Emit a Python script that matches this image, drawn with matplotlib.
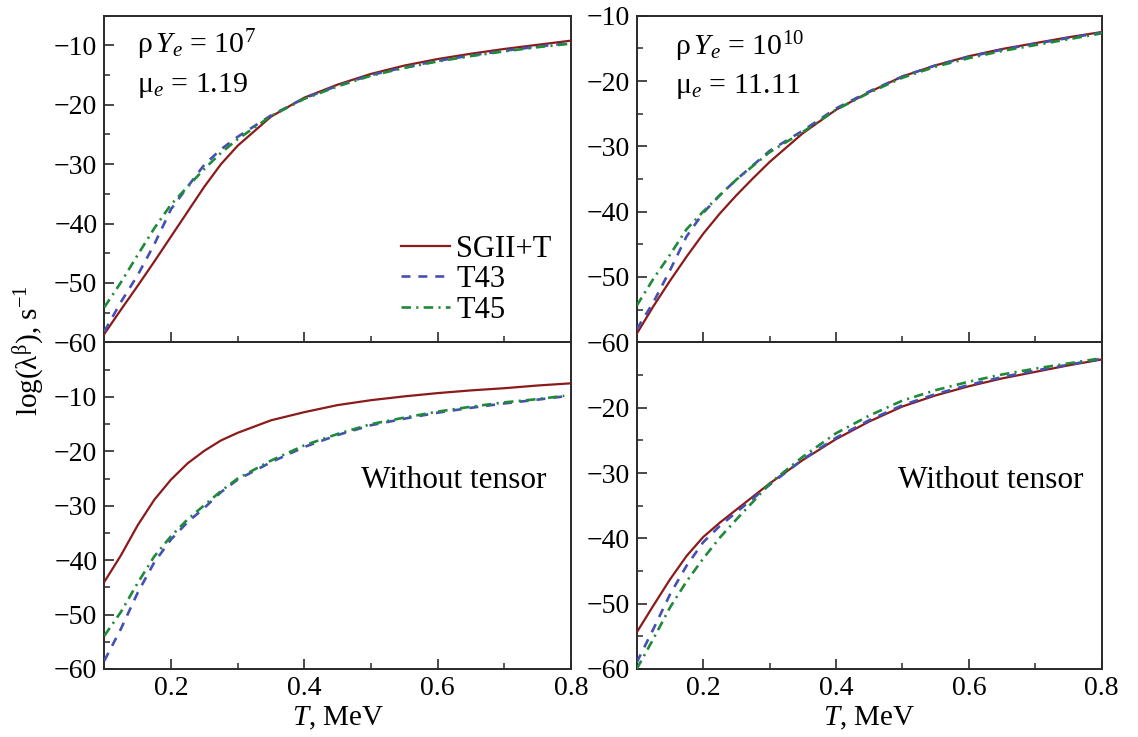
import matplotlib
matplotlib.use("Agg")
import matplotlib.pyplot as plt
from matplotlib.ticker import FixedLocator, MultipleLocator, FixedFormatter

plt.rcParams['font.family'] = ['Liberation Serif', 'DejaVu Serif']
plt.rcParams['mathtext.fontset'] = 'custom'
plt.rcParams['mathtext.rm'] = 'Liberation Serif'
plt.rcParams['mathtext.it'] = 'Liberation Serif:italic'
plt.rcParams['mathtext.bf'] = 'Liberation Serif:bold'

# ---------------- data ----------------
T = [0.1, 0.125, 0.15, 0.175, 0.2, 0.225, 0.25, 0.275, 0.3, 0.35, 0.4,
     0.45, 0.5, 0.55, 0.6, 0.65, 0.7, 0.75, 0.8]
T_bl_models = [0.1, 0.125, 0.15, 0.175, 0.2, 0.225, 0.25, 0.275, 0.3, 0.35, 0.4,
               0.45, 0.5, 0.55, 0.6, 0.65, 0.7, 0.75, 0.79]

# top-left: rhoYe = 1e7, with tensor
tl_sgii = [-58.6, -54.5, -50.5, -46.4, -42.2, -38.0, -33.8, -30.0, -26.9, -22.0, -18.8,
           -16.6, -14.8, -13.4, -12.3, -11.4, -10.6, -9.9, -9.2]
tl_t43 = [-58.2, -53.2, -48.7, -43.5, -37.6, -33.8, -30.1, -27.5, -25.4, -21.8, -18.9,
          -16.8, -15.0, -13.7, -12.6, -11.7, -10.9, -10.2, -9.6]
tl_t45 = [-54.1, -49.9, -45.3, -40.8, -36.8, -33.8, -30.8, -28.1, -25.8, -21.9, -19.0,
          -16.9, -15.1, -13.8, -12.7, -11.8, -11.0, -10.3, -9.7]

# top-right: rhoYe = 1e10, with tensor
tr_sgii = [-58.7, -54.5, -50.6, -46.9, -43.4, -40.3, -37.5, -34.9, -32.4, -28.0, -24.4,
           -21.7, -19.3, -17.6, -16.2, -15.1, -14.2, -13.3, -12.5]
tr_t43 = [-58.0, -53.9, -49.0, -43.8, -40.2, -37.5, -35.1, -32.9, -30.7, -27.6, -24.2,
          -21.6, -19.3, -17.6, -16.3, -15.2, -14.3, -13.4, -12.6]
tr_t45 = [-54.4, -50.3, -46.6, -42.7, -40.0, -37.5, -35.1, -33.0, -30.9, -27.8, -24.4,
          -21.8, -19.5, -17.8, -16.5, -15.4, -14.5, -13.6, -12.7]

# bottom-left: rhoYe = 1e7, without tensor
bl_sgii = [-44.0, -39.1, -33.6, -28.9, -25.2, -22.2, -19.9, -18.0, -16.6, -14.3, -12.8,
           -11.5, -10.6, -9.9, -9.3, -8.8, -8.4, -7.9, -7.5]
bl_t43 = [-58.5, -52.6, -46.0, -40.4, -36.2, -33.0, -30.4, -27.5, -25.2, -22.0, -19.2,
          -17.0, -15.2, -14.0, -12.9, -12.0, -11.2, -10.5, -9.9]
bl_t45 = [-53.9, -49.5, -44.2, -39.3, -35.6, -32.5, -29.9, -27.3, -25.0, -21.7, -18.9,
          -16.8, -15.0, -13.8, -12.7, -11.8, -11.0, -10.4, -9.8]

# bottom-right: rhoYe = 1e10, without tensor
br_sgii = [-54.4, -50.3, -46.3, -42.7, -39.8, -37.6, -35.6, -33.6, -31.6, -28.0, -24.8,
           -22.1, -19.8, -18.1, -16.7, -15.5, -14.5, -13.5, -12.6]
br_t43 = [-59.0, -53.9, -48.6, -44.2, -40.6, -38.1, -36.0, -33.9, -31.8, -27.9, -24.6,
          -21.9, -19.6, -17.9, -16.5, -15.3, -14.3, -13.4, -12.5]
br_t45 = [-60.0, -55.4, -50.6, -46.6, -43.1, -39.9, -37.1, -34.4, -31.6, -27.5, -23.9,
          -21.2, -18.9, -17.3, -16.0, -14.9, -14.0, -13.2, -12.4]

series_labels = ['SGII+T', 'T43', 'T45']
x_major = [0.2, 0.4, 0.6, 0.8]
x_minor = [0.3, 0.5, 0.7]
x_ticklabels = ['0.2', '0.4', '0.6', '0.8']

# ---------------- styles ----------------
RED = '#8B1A1A'
BLUE = '#4650B4'
GREEN = '#1F8A3A'
SPINE = '#2a2a2a'

fig = plt.figure(figsize=(11.38, 7.37), dpi=100)
W, H = 1138.0, 737.0

def rect(x0, y0, x1, y1):
    return [x0 / W, 1 - y1 / H, (x1 - x0) / W, (y1 - y0) / H]

ax_tl = fig.add_axes(rect(104.3, 15.7, 571.0, 342.3))
ax_tr = fig.add_axes(rect(636.7, 15.7, 1101.7, 342.3))
ax_bl = fig.add_axes(rect(104.3, 342.5, 571.0, 669.0))
ax_br = fig.add_axes(rect(636.7, 342.5, 1101.7, 669.0))

panels = [
    (ax_tl, T, tl_sgii, T, tl_t43, tl_t45, (-60, -5), [-10, -20, -30, -40, -50, -60]),
    (ax_tr, T, tr_sgii, T, tr_t43, tr_t45, (-60, -10), [-10, -20, -30, -40, -50, -60]),
    (ax_bl, T, bl_sgii, T_bl_models, bl_t43, bl_t45, (-60, 0), [-10, -20, -30, -40, -50, -60]),
    (ax_br, T, br_sgii, T, br_t43, br_t45, (-60, -10), [-20, -30, -40, -50, -60]),
]

for i, (ax, tx, ys, tm, yb, yg, ylim, ylabels) in enumerate(panels):
    l1, = ax.plot(tx, ys, color=RED, lw=1.6, label=series_labels[0], zorder=3)
    l2, = ax.plot(tm, yb, color=BLUE, lw=1.9, label=series_labels[1], zorder=4)
    l2.set_dashes([3.4, 3.0])
    l3, = ax.plot(tm, yg, color=GREEN, lw=1.9, label=series_labels[2], zorder=5)
    l3.set_dashes([3.6, 2.0, 0.8, 2.0])
    ax.set_xlim(0.1, 0.8)
    ax.set_ylim(*ylim)
    ax.xaxis.set_major_locator(FixedLocator(x_major))
    ax.xaxis.set_minor_locator(FixedLocator(x_minor))
    ax.yaxis.set_major_locator(FixedLocator(ylabels))
    ax.yaxis.set_minor_locator(MultipleLocator(5))
    ax.yaxis.set_major_formatter(FixedFormatter(['\u2212%d' % (-v) for v in ylabels]))
    ax.tick_params(which='both', direction='in', top=False, right=False,
                   color=SPINE, labelsize=20, pad=5)
    ax.tick_params(which='major', length=7.5, width=1.2)
    ax.tick_params(which='minor', length=4.5, width=1.1)
    for sp in ax.spines.values():
        sp.set_color(SPINE)
        sp.set_linewidth(1.4)
    if i < 2:
        ax.tick_params(axis='x', labelbottom=False)
    else:
        ax.set_xticklabels(x_ticklabels)
        ax.set_xlabel('$T$, MeV', fontsize=21, labelpad=3)
    ax.set_facecolor('none')

# annotations
ax_tl.text(0.069, 0.886, r'ρ$\,Y_e$ = 10$^{7}$', transform=ax_tl.transAxes,
           fontsize=21.5, ha='left', va='baseline')
ax_tl.text(0.069, 0.766, r'μ$_e$ = 1.19', transform=ax_tl.transAxes,
           fontsize=21.5, ha='left', va='baseline')
ax_tr.text(0.082, 0.879, r'ρ$\,Y_e$ = 10$^{10}$', transform=ax_tr.transAxes,
           fontsize=21.5, ha='left', va='baseline')
ax_tr.text(0.082, 0.764, r'μ$_e$ = 11.11', transform=ax_tr.transAxes,
           fontsize=21.5, ha='left', va='baseline')
ax_bl.text(0.948, 0.555, 'Without tensor', transform=ax_bl.transAxes,
           fontsize=22.5, ha='right', va='baseline')
ax_br.text(0.961, 0.553, 'Without tensor', transform=ax_br.transAxes,
           fontsize=22.5, ha='right', va='baseline')

leg = ax_tl.legend(loc='upper left', bbox_to_anchor=(0.636, 0.33), frameon=False,
                   fontsize=22, handlelength=1.6, handletextpad=0.2,
                   labelspacing=0.05, borderpad=0, borderaxespad=0)

fig.text(0.025, 0.524, r'log(λ$^{\mathrm{β}}$), s$^{\mathrm{−1}}$', rotation=90,
         fontsize=21, ha='center', va='center')

fig.savefig('out.png', dpi=100)
